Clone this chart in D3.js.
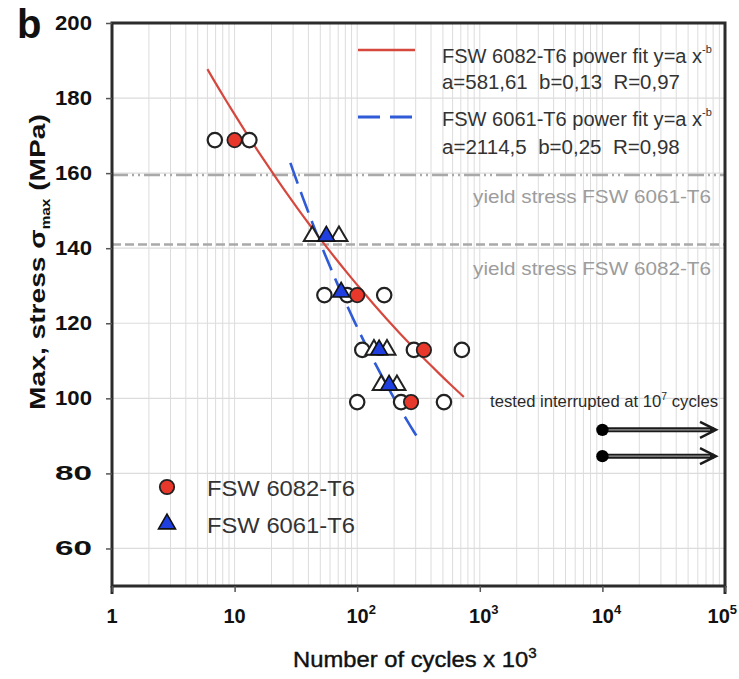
<!DOCTYPE html>
<html>
<head>
<meta charset="utf-8">
<script src="https://cdn.jsdelivr.net/npm/d3@7"></script>
<style>
  html, body { margin: 0; padding: 0; background: #fff; }
  svg { display: block; }
  .narrow { font-family: 'Liberation Sans Narrow', 'Arial Narrow', 'Liberation Sans', Arial, sans-serif; }
  .sans { font-family: 'Liberation Sans', Arial, Helvetica, sans-serif; }
</style>
</head>
<body>
<svg id="chart" width="739" height="679"></svg>
<script>
// ---- data (cycles in thousands, stress in MPa) ----
const xTickValues = [1, 10, 100, 1000, 10000, 100000];
const xTickBase = ["1", "10", "10", "10", "10", "10"];
const xTickExp = ["", "", "2", "3", "4", "5"];
const yTickValues = [60, 80, 100, 120, 140, 160, 180, 200];

// FSW 6082-T6 specimens (filled red circles)
const red6082Cycles = [10, 100, 350, 275];
const red6082Stress = [168.8, 127.5, 112.9, 99.0];

// FSW 6061-T6 specimens (filled blue triangles)
const blue6061Cycles = [56, 74, 151, 182];
const blue6061Stress = [143.2, 128.3, 112.9, 103.5];

// other specimens, open circles
const openCircleCycles = [6.9, 13.2, 54, 83, 166, 110, 290, 714, 100, 228, 510];
const openCircleStress = [168.8, 168.8, 127.5, 127.5, 127.5, 112.9, 112.9, 112.9, 99.0, 99.0, 99.0];

// other specimens, open triangles
const openTriCycles = [43, 71, 137, 175, 157, 211];
const openTriStress = [143.2, 143.2, 112.9, 112.9, 103.5, 103.5];

// run-outs (test interrupted)
const runoutCycles = [10000, 10000];
const runoutStress = [91.6, 84.6];
const runoutArrowEnd = 84500;

// power fits y = a * N^-b  (N in cycles)
const fitNames = ["FSW 6082-T6", "FSW 6061-T6"];
const fitA = [581.61, 2114.5];
const fitB = [0.13, 0.25];
const fitR = [0.97, 0.98];
const fitFrom = [6.0, 28.5];
const fitTo = [741, 307];

// yield stress reference levels
const yieldNames = ["FSW 6061-T6", "FSW 6082-T6"];
const yieldStress = [159.5, 141.0];

(function draw() {
  const svg = d3.select("#chart");
  const pLeft = 112, pRight = 725, pTop = 23, pBottom = 586;

  const x = d3.scaleLog().domain([1, 100000]).range([pLeft, pRight]);
  const y = d3.scaleLinear().domain([50, 200]).range([pBottom, pTop]);

  // squeeze a text horizontally about its anchor so it spans the given width
  function fitWidth(sel, anchorX, width) {
    const w = sel.node().getBBox().width;
    if (w > 0) {
      const s = width / w;
      sel.attr("transform", `translate(${anchorX},0) scale(${s},1) translate(${-anchorX},0)`);
    }
    return sel;
  }

  const gridColor = "#dcdcdc";
  const grid = svg.append("g");

  // vertical grid: every 1..9 x decade
  const vGrid = [];
  for (let d = 1; d < 100000; d *= 10) for (let k = 1; k <= 9; k++) vGrid.push(d * k);
  grid.selectAll("line.v").data(vGrid.filter(v => v > 1)).join("line")
    .attr("x1", d => x(d)).attr("x2", d => x(d))
    .attr("y1", pTop).attr("y2", pBottom)
    .attr("stroke", gridColor).attr("stroke-width", 1);

  // horizontal grid
  grid.selectAll("line.h").data(yTickValues.filter(v => v < 200)).join("line")
    .attr("x1", pLeft).attr("x2", pRight)
    .attr("y1", d => y(d)).attr("y2", d => y(d))
    .attr("stroke", gridColor).attr("stroke-width", 1.2);

  // yield stress lines
  const yieldDash = ["16,4,2,4,2,4", "9,4"];
  svg.selectAll("line.yield").data(yieldStress).join("line")
    .attr("x1", pLeft).attr("x2", pRight)
    .attr("y1", d => y(d)).attr("y2", d => y(d))
    .attr("stroke", "#a9a9a9").attr("stroke-width", 2.6)
    .attr("stroke-dasharray", (d, i) => yieldDash[i]);

  const yieldLabelDy = [28, 31];
  yieldStress.forEach((v, i) => {
    const t = svg.append("text").attr("class", "narrow")
      .attr("x", 711).attr("y", y(v) + yieldLabelDy[i])
      .attr("text-anchor", "end")
      .attr("font-size", 19).attr("fill", "#9c9c9c")
      .text("yield stress " + yieldNames[i]);
    fitWidth(t, 711, 238);
  });

  // ---- fit curves ----
  const fitColor = ["#d6483e", "#2f5bd6"];
  const fitDash = [null, "22,9"];
  fitA.forEach((a, i) => {
    const lo = Math.log10(fitFrom[i]), hi = Math.log10(fitTo[i]);
    const pts = d3.range(0, 41).map(k => {
      const n = Math.pow(10, lo + (hi - lo) * k / 40);
      return [n, a * Math.pow(n * 1000, -fitB[i])];
    });
    svg.append("path")
      .attr("d", d3.line().x(d => x(d[0])).y(d => y(d[1]))(pts))
      .attr("fill", "none").attr("stroke", fitColor[i])
      .attr("stroke-width", i === 0 ? 2.2 : 2.6)
      .attr("stroke-dasharray", fitDash[i]);
  });

  // ---- markers ----
  const tri = d3.symbol().type(d3.symbolTriangle).size(125);

  svg.selectAll("circle.open").data(d3.zip(openCircleCycles, openCircleStress)).join("circle")
    .attr("cx", d => x(d[0])).attr("cy", d => y(d[1])).attr("r", 7.2)
    .attr("fill", "#fff").attr("stroke", "#222").attr("stroke-width", 2.2);

  svg.selectAll("path.opentri").data(d3.zip(openTriCycles, openTriStress)).join("path")
    .attr("d", tri).attr("transform", d => `translate(${x(d[0])},${y(d[1])})`)
    .attr("fill", "#fff").attr("stroke", "#222").attr("stroke-width", 2);

  svg.selectAll("path.bluetri").data(d3.zip(blue6061Cycles, blue6061Stress)).join("path")
    .attr("d", tri).attr("transform", d => `translate(${x(d[0])},${y(d[1])})`)
    .attr("fill", "#1f3fe0").attr("stroke", "#111").attr("stroke-width", 1.6);

  svg.selectAll("circle.red").data(d3.zip(red6082Cycles, red6082Stress)).join("circle")
    .attr("cx", d => x(d[0])).attr("cy", d => y(d[1])).attr("r", 7.2)
    .attr("fill", "#e8382b").attr("stroke", "#222").attr("stroke-width", 1.8);

  // ---- run-outs ----
  const runG = svg.append("g");
  d3.zip(runoutCycles, runoutStress).forEach(([n, s]) => {
    const x0 = x(n), x1 = x(runoutArrowEnd), yy = y(s);
    runG.append("line").attr("x1", x0).attr("x2", x1 - 2).attr("y1", yy).attr("y2", yy)
      .attr("stroke", "#1a1a1a").attr("stroke-width", 5);
    runG.append("line").attr("x1", x0).attr("x2", x1 - 6).attr("y1", yy).attr("y2", yy)
      .attr("stroke", "#9a9a9a").attr("stroke-width", 1.4);
    runG.append("path")
      .attr("d", `M${x1 - 16},${yy - 8} L${x1},${yy} L${x1 - 16},${yy + 8}`)
      .attr("fill", "none").attr("stroke", "#1a1a1a").attr("stroke-width", 2.4);
    runG.append("circle").attr("cx", x0).attr("cy", yy).attr("r", 6.2).attr("fill", "#000");
  });
  const runText = svg.append("text").attr("class", "narrow")
    .attr("x", 718).attr("y", 407).attr("text-anchor", "end")
    .attr("font-size", 16).attr("fill", "#2a2a2a");
  runText.append("tspan").text("tested interrupted at 10");
  runText.append("tspan").attr("dy", -7).attr("font-size", 10).text("7");
  runText.append("tspan").attr("dy", 7).text(" cycles");
  fitWidth(runText, 718, 228);

  // ---- frame and axes ----
  svg.append("rect").attr("x", pLeft).attr("y", pTop)
    .attr("width", pRight - pLeft).attr("height", pBottom - pTop)
    .attr("fill", "none").attr("stroke", "#2b2b2b").attr("stroke-width", 3);

  // small extensions of the side rules below the baseline
  [pLeft, pRight].forEach(px => svg.append("line")
    .attr("x1", px).attr("x2", px).attr("y1", pBottom).attr("y2", pBottom + 8)
    .attr("stroke", "#2b2b2b").attr("stroke-width", 3));

  const xAxis = d3.axisBottom(x).tickValues(xTickValues).tickSize(6).tickFormat(() => "");
  svg.append("g").attr("transform", `translate(0,${pBottom})`).call(xAxis)
    .call(g => g.select(".domain").remove())
    .call(g => g.selectAll(".tick line").attr("stroke", "#555").attr("stroke-width", 1.5));

  const yAxis = d3.axisLeft(y).tickValues(yTickValues).tickSize(6).tickFormat(() => "");
  svg.append("g").attr("transform", `translate(${pLeft},0)`).call(yAxis)
    .call(g => g.select(".domain").remove())
    .call(g => g.selectAll(".tick line").attr("stroke", "#555").attr("stroke-width", 1.5));

  // y tick labels
  yTickValues.forEach(v => {
    const t = svg.append("text").attr("class", "sans")
      .attr("x", 92).attr("y", y(v) + 7)
      .attr("text-anchor", "end").attr("font-size", 21).attr("font-weight", "bold")
      .attr("fill", "#111").text(v);
    fitWidth(t, 92, 37);
  });

  // x tick labels with exponents
  xTickValues.forEach((v, i) => {
    const last = i === xTickValues.length - 1;
    const t = svg.append("text").attr("class", "sans")
      .attr("x", last ? 737 : x(v) + (xTickExp[i] ? 4 : 0)).attr("y", 623)
      .attr("text-anchor", last ? "end" : "middle").attr("font-size", 20).attr("font-weight", "bold")
      .attr("fill", "#111");
    t.append("tspan").text(xTickBase[i]);
    if (xTickExp[i]) t.append("tspan").attr("dy", -9).attr("font-size", 13).text(xTickExp[i]);
  });

  // axis titles
  const xt = svg.append("text").attr("class", "narrow")
    .attr("x", 293).attr("y", 667).attr("font-size", 22).attr("fill", "#111")
    .attr("stroke", "#111").attr("stroke-width", 0.4);
  xt.append("tspan").text("Number of cycles x 10");
  xt.append("tspan").attr("dy", -9).attr("font-size", 14).text("3");
  fitWidth(xt, 293, 244);

  const ytG = svg.append("g").attr("transform", "translate(45,262) rotate(-90)");
  const yt = ytG.append("text").attr("class", "sans")
    .attr("x", 0).attr("y", 0)
    .attr("text-anchor", "middle").attr("font-size", 22).attr("font-weight", "bold")
    .attr("fill", "#111");
  yt.append("tspan").text("Max, stress σ");
  yt.append("tspan").attr("dy", 5).attr("font-size", 12).text("max");
  yt.append("tspan").attr("dy", -5).text(" (MPa)");
  fitWidth(yt, 0, 296);

  // panel letter
  svg.append("text").attr("class", "sans")
    .attr("x", 17).attr("y", 38).attr("font-size", 40).attr("font-weight", "bold")
    .attr("fill", "#111").text("b");

  // ---- fit legend (top right) ----
  const fitLegY = [50, 117];
  const fitLegBase1 = [63, 126];
  const fitLegBase2 = [89, 154];
  const fmt = v => String(v).replace(".", ",");
  fitNames.forEach((name, i) => {
    svg.append("line").attr("x1", 358).attr("x2", 415)
      .attr("y1", fitLegY[i]).attr("y2", fitLegY[i])
      .attr("stroke", fitColor[i]).attr("stroke-width", i === 0 ? 2.4 : 3)
      .attr("stroke-dasharray", i === 0 ? null : "22,10");
    const l1 = svg.append("text").attr("class", "narrow")
      .attr("x", 442).attr("y", fitLegBase1[i]).attr("font-size", 20).attr("fill", "#333");
    l1.append("tspan").text(name + " power fit y=a x");
    l1.append("tspan").attr("dy", -10).attr("font-size", 11).text("-b");
    fitWidth(l1, 442, 270);
    const l2 = svg.append("text").attr("class", "narrow")
      .attr("x", 442).attr("y", fitLegBase2[i]).attr("font-size", 20).attr("fill", "#333")
      .attr("xml:space", "preserve")
      .text(`a=${fmt(fitA[i])}  b=${fmt(fitB[i])}  R=${fmt(fitR[i])}`);
    fitWidth(l2, 442, 238);
  });

  // ---- marker legend (bottom left) ----
  svg.append("circle").attr("cx", 167).attr("cy", 487).attr("r", 7.2)
    .attr("fill", "#e8382b").attr("stroke", "#222").attr("stroke-width", 1.8);
  svg.append("path").attr("d", tri).attr("transform", "translate(167,524)")
    .attr("fill", "#1f3fe0").attr("stroke", "#111").attr("stroke-width", 1.6);
  const legBase = [496, 533];
  fitNames.forEach((name, i) => {
    const t = svg.append("text").attr("class", "narrow")
      .attr("x", 207).attr("y", legBase[i]).attr("font-size", 22).attr("fill", "#333")
      .text(name);
    fitWidth(t, 207, 148);
  });
})();
</script>
</body>
</html>
